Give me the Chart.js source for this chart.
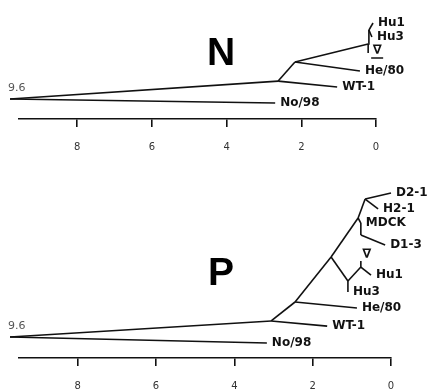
<!DOCTYPE html>
<html><head><meta charset="utf-8">
<script src="https://cdn.jsdelivr.net/npm/chart.js@4.4.1/dist/chart.umd.min.js"></script>
<style>
html,body{margin:0;padding:0;background:#fff;overflow:hidden;width:429px;height:392px;}
#wrap{position:relative;width:429px;height:392px;overflow:hidden;}
canvas{position:absolute;left:0;}
#cN{top:0}
#cP{top:167px}
</style></head><body>
<div id="wrap"><canvas id="cN" width="429" height="167"></canvas><canvas id="cP" width="429" height="239"></canvas></div>
<script>
// ---- data ----
const xTicks = [0, 2, 4, 6, 8];
const rootDepthLabel = '9.6';

// N gene tree (distance from present, leaf row)
const nIds    = ['root','No/98','A','WT-1','B','He/80','C','HuN','Hu1','Hu3','V'];
const nDist   = [9.80, 2.70, 2.62, 1.04, 2.17, 0.43, 0.21, 0.19, 0.08, 0.11, 0.21];
const nRow    = [4.75, 5.00, 3.63, 4.00, 2.44, 3.00, 1.31, 0.44, 0.00, 0.875, 1.875];
const nParent = [null,'root','root','A','A','B','B','C','HuN','HuN','C'];
const nLabel  = ['', 'No/98', '', 'WT-1', '', 'He/80', '', '', 'Hu1', 'Hu3', '∇'];

// P gene tree
const pIds    = ['root','No/98','A','WT-1','B','He/80','C','D','Hu3','HuP','Hu1','V','E','F','D2-1','H2-1','MDCK','G','D1-3'];
const pDist   = [9.73, 3.17, 3.06, 1.63, 2.45, 0.87, 1.53, 1.10, 1.10, 0.77, 0.51, 0.77, 0.84, 0.66, 0.00, 0.33, 0.77, 0.77, 0.15];
const pRow    = [9.06, 9.44, 8.06, 8.38, 6.875, 7.25, 4.06, 5.56, 6.25, 4.69, 5.19, 4.31, 1.625, 0.44, 0.06, 1.06, 1.94, 2.69, 3.31];
const pParent = [null,'root','root','A','A','B','B','C','D','D','HuP','HuP','C','E','F','F','E','MDCK','G'];
const pLabel  = ['', 'No/98', '', 'WT-1', '', 'He/80', '', '', 'Hu3', '', 'Hu1', '∇', '', '', 'D2-1', 'H2-1', 'MDCK', '', 'D1-3'];

// ---- styles ----
const styleN = {xMax: 9.56, yMax: 6, padding: {left: 19, right: 53, top: 7, bottom: 0},
  title: {text: 'N', x: 4.15, y: 1.94}, vmark: {dx: 9, dy: -2, underline: true}};
const styleP = {xMax: 9.50, yMax: 10.375, padding: {left: 19, right: 38, top: 9, bottom: 0},
  title: {text: 'P', x: 4.34, y: 5.125}, vmark: {dx: 6, dy: -6, underline: false}};

function edgeDatasets(ids, dist, row, parent) {
  const idx = {}; ids.forEach((id, i) => idx[id] = i);
  const ds = [];
  ids.forEach((id, i) => {
    if (parent[i] === null) return;
    const p = idx[parent[i]];
    ds.push({
      data: [{x: dist[p], y: row[p]}, {x: dist[i], y: row[i]}],
      showLine: true, borderColor: '#111', borderWidth: 1.6,
      pointRadius: 0, pointHoverRadius: 0, clip: false, fill: false, tension: 0
    });
  });
  return ds;
}

const treePlugin = {
  id: 'treeText',
  afterDatasetsDraw(chart, args, o) {
    const ctx = chart.ctx, xs = chart.scales.x, ys = chart.scales.y;
    ctx.save();
    o.ids.forEach((id, i) => {
      const t = o.labels[i];
      if (!t) return;
      const px = xs.getPixelForValue(o.dist[i]), py = ys.getPixelForValue(o.row[i]);
      if (t === '∇') {
        ctx.fillStyle = '#111';
        ctx.font = 'bold 13px "DejaVu Sans"';
        ctx.textAlign = 'center'; ctx.textBaseline = 'middle';
        const cx = px + o.vmark.dx, cy = py + o.vmark.dy;
        ctx.fillText('∇', cx, cy);
        if (o.vmark.underline) {
          ctx.strokeStyle = '#111'; ctx.lineWidth = 1.5;
          ctx.beginPath(); ctx.moveTo(cx - 6, cy + 7); ctx.lineTo(cx + 6, cy + 7); ctx.stroke();
        }
        return;
      }
      ctx.fillStyle = '#111';
      ctx.font = 'bold 12px "DejaVu Sans"';
      ctx.textAlign = 'left'; ctx.textBaseline = 'middle';
      ctx.fillText(t, px + 5, py);
    });
    const ri = o.parent.indexOf(null);
    const rx = xs.getPixelForValue(o.dist[ri]), ry = ys.getPixelForValue(o.row[ri]);
    ctx.fillStyle = '#555';
    ctx.font = '11px "DejaVu Sans"';
    ctx.textAlign = 'left'; ctx.textBaseline = 'middle';
    ctx.fillText(o.rootText, rx - 2, ry - 11);
    ctx.fillStyle = '#000';
    ctx.font = 'bold 39px "Liberation Sans"';
    ctx.textAlign = 'center'; ctx.textBaseline = 'middle';
    ctx.fillText(o.title.text, xs.getPixelForValue(o.title.x), ys.getPixelForValue(o.title.y));
    ctx.restore();
  }
};

function makeChart(id, ids, dist, row, parent, labels, st) {
  return new Chart(document.getElementById(id), {
    type: 'scatter',
    data: {datasets: edgeDatasets(ids, dist, row, parent)},
    plugins: [treePlugin],
    options: {
      responsive: false, animation: false, devicePixelRatio: 1,
      layout: {padding: st.padding},
      plugins: {
        legend: {display: false}, tooltip: {enabled: false},
        treeText: {ids, dist, row, parent, labels, rootText: rootDepthLabel, title: st.title, vmark: st.vmark}
      },
      scales: {
        x: {
          type: 'linear', reverse: true, min: 0, max: st.xMax,
          afterBuildTicks: ax => { ax.ticks = xTicks.map(v => ({value: v})); },
          ticks: {color: '#333', font: {family: 'DejaVu Sans', size: 10}, padding: 14, maxRotation: 0, autoSkip: false},
          grid: {drawOnChartArea: false, drawTicks: true, tickLength: 8, color: '#111', lineWidth: 1.6},
          border: {display: true, color: '#111', width: 1.6}
        },
        y: {type: 'linear', reverse: true, min: -1, max: st.yMax, display: false}
      }
    }
  });
}

makeChart('cN', nIds, nDist, nRow, nParent, nLabel, styleN);
makeChart('cP', pIds, pDist, pRow, pParent, pLabel, styleP);
</script>
</body></html>
